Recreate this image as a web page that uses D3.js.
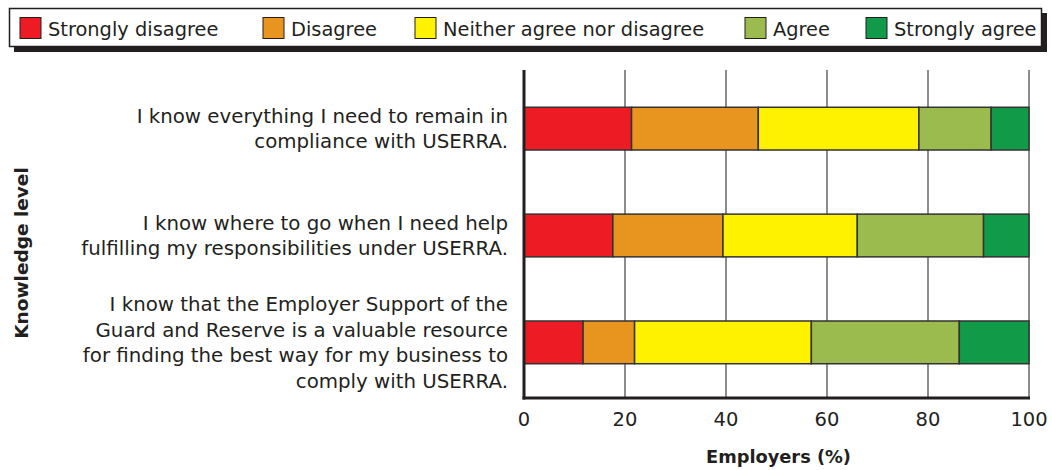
<!DOCTYPE html>
<html>
<head>
<meta charset="utf-8">
<script src="https://cdn.jsdelivr.net/npm/d3@7"></script>
<style>
  body { margin: 0; background: #fff; }
  text { font-family: "DejaVu Sans", sans-serif; fill: #231f20; }
</style>
</head>
<body>
<svg id="chart" width="1052" height="470"></svg>
<script>
const responses = ["Strongly disagree", "Disagree", "Neither agree nor disagree", "Agree", "Strongly agree"];
const colors = ["#ed1c24", "#e8951f", "#fff200", "#9bbb4f", "#119a48"];
const statements = [
    ["I know everything I need to remain in", "compliance with USERRA."],
    ["I know where to go when I need help", "fulfilling my responsibilities under USERRA."],
    ["I know that the Employer Support of the", "Guard and Reserve is a valuable resource", "for finding the best way for my business to", "comply with USERRA."]
];
const stronglyDisagree = [21.3, 17.6, 11.7];
const disagree = [25.1, 21.8, 10.2];
const neither = [31.8, 26.6, 35.0];
const agree = [14.3, 25.0, 29.3];
const stronglyAgree = [7.5, 9.0, 13.8];
const xTicks = [0, 20, 40, 60, 80, 100];

const svg = d3.select("#chart");
const plot = { left: 524, right: 1029, top: 70, bottom: 398 };

const rows = statements.map((s, i) => ({
    id: i, lines: s,
    vals: [stronglyDisagree[i], disagree[i], neither[i], agree[i], stronglyAgree[i]]
}));

const x = d3.scaleLinear().domain([0, 100]).range([plot.left, plot.right]);
const y = d3.scaleBand().domain(rows.map(r => r.id)).range([plot.top + 2, plot.bottom + 1])
    .paddingInner(0.6).paddingOuter(0.33);

// legend
const legend = svg.append("g");
legend.append("rect").attr("x", 14).attr("y", 13).attr("width", 1033).attr("height", 39).attr("fill", "#231f20");
legend.append("rect").attr("x", 9.5).attr("y", 8.5).attr("width", 1032).attr("height", 38)
    .attr("fill", "#fff").attr("stroke", "#231f20").attr("stroke-width", 1.5);
const legendX = [20, 263, 415, 745, 866];
responses.forEach((r, i) => {
    legend.append("rect").attr("x", legendX[i]).attr("y", 17.5).attr("width", 21).attr("height", 21)
        .attr("fill", colors[i]).attr("stroke", "#231f20").attr("stroke-width", 1);
    legend.append("text").attr("x", legendX[i] + 28).attr("y", 29).attr("dy", "0.35em")
        .attr("font-size", 19.4).text(r);
});

// gridlines
svg.append("g").selectAll("line").data(xTicks.slice(1)).join("line")
    .attr("x1", d => x(d)).attr("x2", d => x(d))
    .attr("y1", plot.top).attr("y2", plot.bottom)
    .attr("stroke", "#666").attr("stroke-width", 1.5);

// bars
rows.forEach(r => {
    let acc = 0;
    const segs = r.vals.map((v, i) => { const s = { x0: acc, x1: acc + v, c: colors[i] }; acc += v; return s; });
    svg.append("g").selectAll("rect").data(segs).join("rect")
        .attr("x", d => x(d.x0)).attr("width", d => x(d.x1) - x(d.x0))
        .attr("y", y(r.id)).attr("height", y.bandwidth())
        .attr("fill", d => d.c).attr("stroke", "#333").attr("stroke-width", 1.5);
});

// axes lines
svg.append("line").attr("x1", plot.left).attr("x2", plot.left).attr("y1", plot.top).attr("y2", plot.bottom + 1.5)
    .attr("stroke", "#231f20").attr("stroke-width", 3);
svg.append("line").attr("x1", plot.left - 1.5).attr("x2", plot.right + 1).attr("y1", plot.bottom).attr("y2", plot.bottom)
    .attr("stroke", "#231f20").attr("stroke-width", 3);

// tick labels
svg.append("g").selectAll("text").data(xTicks).join("text")
    .attr("x", d => x(d)).attr("y", 419).attr("dy", "0.35em")
    .attr("text-anchor", "middle").attr("font-size", 19.5).text(d => d);

// category labels
const lineH = 25.5;
rows.forEach(r => {
    const cy = y(r.id) + y.bandwidth() / 2;
    const n = r.lines.length;
    svg.append("g").selectAll("text").data(r.lines).join("text")
        .attr("x", 508).attr("y", (d, i) => cy + (i - (n - 1) / 2) * lineH).attr("dy", "0.35em")
        .attr("text-anchor", "end").attr("font-size", 19.8).text(d => d);
});

// titles
svg.append("text").attr("x", (plot.left + plot.right) / 2 + 2).attr("y", 457).attr("dy", "0.35em")
    .attr("text-anchor", "middle").attr("font-size", 17.8).attr("font-weight", "bold").text("Employers (%)");
svg.append("text").attr("transform", "translate(22,253) rotate(-90)").attr("dy", "0.35em")
    .attr("text-anchor", "middle").attr("font-size", 18.5).attr("font-weight", "bold").text("Knowledge level");
</script>
</body>
</html>
